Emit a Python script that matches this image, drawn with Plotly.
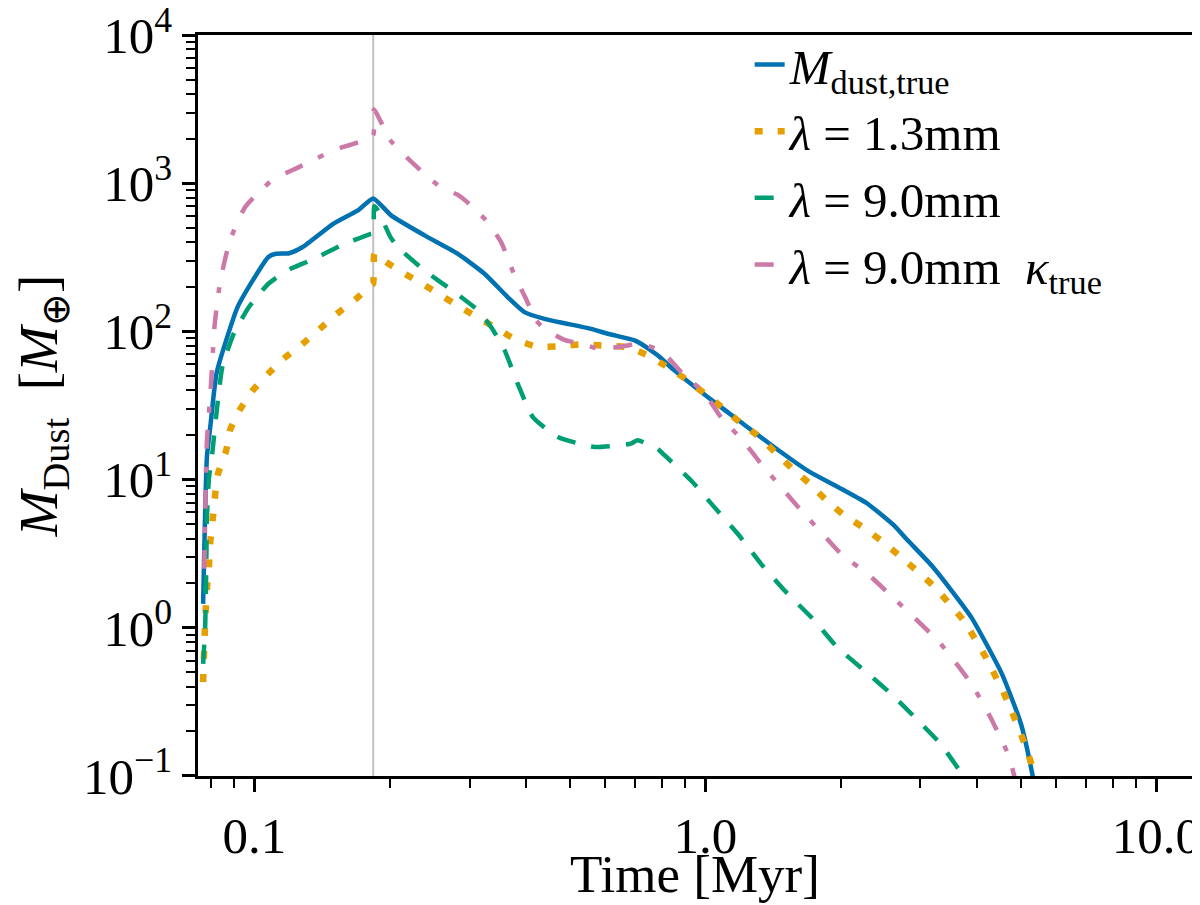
import plotly.graph_objects as go

# ---------------- data ----------------
t_true = [0.0770, 0.0785, 0.0800, 0.0824, 0.0866, 0.0918, 0.0992, 0.1073, 0.1116, 0.1195,
          0.128, 0.1496, 0.1697, 0.1835, 0.201, 0.2384, 0.2827, 0.3239, 0.3648, 0.397,
          0.44, 0.558, 0.608, 0.697, 0.72, 0.784, 0.854, 1.012, 1.2, 1.42, 1.686, 2.0,
          2.29, 2.63, 2.81, 3.197, 3.886, 4.544, 5.01, 5.31, 5.6]
m_true = [1.45, 14.2, 23.8, 51.8, 87, 146, 221, 317, 334, 337,
          371, 532, 655, 790, 607, 445, 334, 245, 170, 135,
          121.6, 104, 96.4, 87, 82.5, 69, 54.6, 36.1, 24.4, 16.6, 11.5, 8.67,
          6.87, 4.85, 3.89, 2.57, 1.18, 0.49, 0.225, 0.103, 0.04]

t_13 = [0.0770, 0.0776, 0.0780, 0.0785, 0.0793, 0.0798, 0.0808, 0.0817, 0.0829, 0.0866,
        0.0883, 0.0927, 0.0992, 0.1073, 0.116, 0.128, 0.1397, 0.1525, 0.1682, 0.1813,
        0.1834, 0.1845, 0.1863, 0.2063, 0.2285, 0.253, 0.278, 0.3077, 0.3408, 0.3775,
        0.4214, 0.471, 0.53, 0.597, 0.673, 0.745, 0.825, 0.914, 0.998, 1.10,
        1.2, 1.318, 1.434, 1.562, 1.701, 1.851, 2.034, 2.233, 2.45, 2.69,
        3.197, 3.737, 4.202, 4.677, 5.105, 5.31, 5.6]
m_13 = [0.43, 0.89, 1.28, 1.83, 2.57, 3.69, 5.3, 7.4, 10.7, 15.7,
        21.5, 29.3, 40, 51.8, 65.3, 82.5, 104, 131.5, 166, 204,
        210, 335, 326, 265, 221, 184, 153.5, 128, 107, 89,
        79.2, 79.2, 81.7, 80, 78.3, 68.9, 57.4, 46.7, 38, 30,
        24, 19.4, 15.1, 11.8, 9.4, 7.3, 5.73, 4.78, 3.89, 3.08,
        1.93, 1.12, 0.62, 0.32, 0.165, 0.115, 0.05]

t_90 = [0.0770, 0.0778, 0.0781, 0.0783, 0.0785, 0.0793, 0.0808, 0.0824, 0.0849, 0.09,
        0.0973, 0.1073, 0.1183, 0.1357, 0.1555, 0.1813, 0.1834, 0.1845, 0.188, 0.2004,
        0.208, 0.2384, 0.278, 0.313, 0.335, 0.359, 0.3838, 0.4146, 0.471, 0.568,
        0.684, 0.708, 0.784, 0.812, 0.93, 1.047, 1.18, 1.329, 1.497, 1.745,
        1.96, 2.25, 2.58, 2.96, 3.32, 3.66, 3.9]
m_90 = [0.57, 1.01, 1.79, 3.16, 5.58, 10.1, 15.7, 27.8, 57.4, 96.4,
        146, 209, 258, 309, 380, 456, 460, 700, 655, 433,
        371, 258, 184, 139, 107, 74.5, 44.3, 26.4, 19.4, 16.6,
        17.5, 18.4, 16.1, 14.6, 9.86, 6.52, 4.31, 2.7, 1.79, 1.12,
        0.74, 0.516, 0.359, 0.237, 0.165, 0.109, 0.08]

t_90k = [0.0774, 0.0775, 0.0777, 0.0779, 0.0781, 0.0785, 0.0800, 0.0817, 0.0841, 0.0883,
         0.0954, 0.1094, 0.1255, 0.1496, 0.1833, 0.1842, 0.2004, 0.2255, 0.2585, 0.2827,
         0.2974, 0.3266, 0.3526, 0.3775, 0.4006, 0.42, 0.44, 0.487, 0.53, 0.587,
         0.673, 0.708, 0.798, 0.884, 0.998, 1.083, 1.21, 1.329, 1.472, 1.63,
         1.82, 2.016, 2.29, 2.58, 2.9, 3.324, 3.886, 4.285, 4.724, 4.818, 5.0]
m_90k = [2.5, 2.85, 4.3, 6.87, 11.2, 18.4, 40, 112.5, 221, 411,
         690, 1045, 1285, 1665, 2100, 3150, 1944, 1352, 942, 835,
         740, 561, 400, 239, 165, 120, 104, 87.7, 82.5, 76,
         80.4, 83, 74, 53.2, 38, 26.4, 18.4, 12.8, 8.9, 6.2,
         4.31, 3.08, 2.31, 1.65, 1.18, 0.78, 0.42, 0.25, 0.134, 0.106, 0.07]

t_marker = [0.1835, 0.1835]
m_marker = [0.1, 10000]

x_tickvals = [0.1, 1.0, 10.0]
x_ticktext = ["0.1", "1.0", "10.0"]
y_tickvals = [0.1, 1, 10, 100, 1000, 10000]
y_ticktext = ["10<sup>\u22121</sup>", "10<sup>0</sup>", "10<sup>1</sup>",
              "10<sup>2</sup>", "10<sup>3</sup>", "10<sup>4</sup>"]
x_minor = [0.08, 0.09, 0.2, 0.3, 0.4, 0.5, 0.6, 0.7, 0.8, 0.9,
           2, 3, 4, 5, 6, 7, 8, 9]
y_minor = [m * 10 ** e for e in range(-1, 4) for m in range(2, 10)]

labels = ["<i>M</i><sub>dust,true</sub>",
          "<i>λ</i> = 1.3mm",
          "<i>λ</i> = 9.0mm",
          "<i>λ</i> = 9.0mm  <i>κ</i><sub>true</sub>"]
x_title = "Time [Myr]"
y_title = "<i>M</i><sub>Dust</sub>  [<i>M</i><sub>\u2295</sub>]"

FONT = "Liberation Serif"
SMOOTH = dict(shape="spline", smoothing=0.5)

fig = go.Figure()
fig.add_trace(go.Scatter(x=t_marker, y=m_marker, mode="lines",
                         line=dict(color="#c0c0c0", width=2),
                         showlegend=False, hoverinfo="skip"))
fig.add_trace(go.Scatter(x=t_true, y=m_true, mode="lines", name=labels[0],
                         line=dict(color="#0072B2", width=4.5, **SMOOTH)))
fig.add_trace(go.Scatter(x=t_13, y=m_13, mode="lines", name=labels[1],
                         line=dict(color="#E69F00", width=6.5, dash="8px,15px", **SMOOTH)))
fig.add_trace(go.Scatter(x=t_90, y=m_90, mode="lines", name=labels[2],
                         line=dict(color="#009E73", width=4.5, dash="19px,16px", **SMOOTH)))
fig.add_trace(go.Scatter(x=t_90k, y=m_90k, mode="lines", name=labels[3],
                         line=dict(color="#CC79A7", width=4.5, dash="19px,17px,6px,18px",
                                   **SMOOTH)))

axis_common = dict(
    showline=True, linecolor="black", linewidth=2.5, mirror=True,
    ticks="outside", ticklen=13, tickwidth=2.5, tickcolor="black",
    showgrid=False, zeroline=False, ticklabeloverflow="allow", automargin=False,
    tickfont=dict(family=FONT, size=51, color="black"),
)

fig.update_xaxes(
    type="log", range=[-1.1249, 1.0792],
    tickmode="array", tickvals=x_tickvals, ticktext=x_ticktext,
    minor=dict(tickmode="array", tickvals=x_minor, ticks="outside",
               ticklen=9, tickwidth=2, tickcolor="black", showgrid=False),
    **axis_common)
fig.update_yaxes(
    type="log", range=[-1.0005, 4.0005],
    tickmode="array", tickvals=y_tickvals, ticktext=y_ticktext,
    minor=dict(tickmode="array", tickvals=y_minor, ticks="outside",
               ticklen=9, tickwidth=2, tickcolor="black", showgrid=False),
    title=dict(text=y_title, font=dict(family=FONT, size=55, color="black")),
    **axis_common)

# x-axis title, placed just under the tick labels as in the reference
fig.add_annotation(text=x_title, xref="paper", yref="paper", x=0.5, y=-0.1323,
                   xanchor="center", yanchor="middle", showarrow=False,
                   font=dict(family=FONT, size=53, color="black"))

fig.update_layout(
    width=1200, height=905,
    margin=dict(l=190, r=16, t=27, b=137),
    paper_bgcolor="white", plot_bgcolor="white",
    font=dict(family=FONT, size=50, color="black"),
    legend=dict(x=0.555, y=1.012, xanchor="left", yanchor="top",
                bgcolor="rgba(0,0,0,0)", borderwidth=0,
                font=dict(family=FONT, size=49, color="black"),
                itemwidth=30, tracegroupgap=0),
    showlegend=True,
)

fig.write_html("out.html")
